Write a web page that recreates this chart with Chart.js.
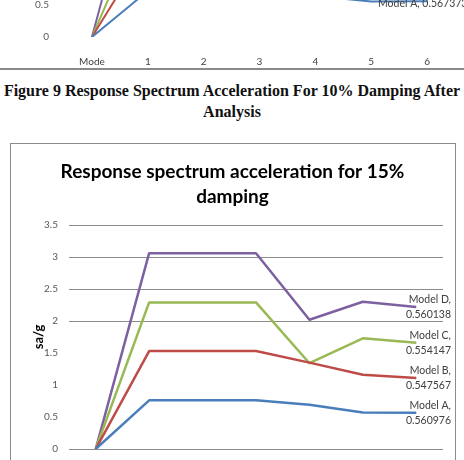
<!DOCTYPE html>
<html>
<head>
<meta charset="utf-8">
<script src="https://cdn.jsdelivr.net/npm/chart.js@4/dist/chart.umd.min.js"></script>
<style>
  body { margin: 0; width: 464px; height: 460px; overflow: hidden; position: relative; background: #fff; }
  #prevWrap { position: absolute; left: 0; top: 0; width: 464px; height: 68px; overflow: hidden; }
  #prevChart { position: absolute; left: 0; top: -232px; }
  #rule { position: absolute; left: 0; top: 68px; width: 464px; border-top: 2px solid #8a8a8a; }
  #caption { position: absolute; left: 0; top: 80px; width: 464px; text-align: center;
             font: bold 16px "Liberation Serif", "Times New Roman", serif; line-height: 21px; color: #111; }
  #box { position: absolute; left: 10px; top: 143px; width: 444px; height: 340px; border: 1px solid #8c8c8c; }
</style>
</head>
<body>
<div id="prevWrap"><canvas id="prevChart" width="464" height="300"></canvas></div>
<div id="rule"></div>
<div id="caption">Figure 9 Response Spectrum Acceleration For 10% Damping After<br>Analysis</div>
<div id="box"><canvas id="chart" width="444" height="335"></canvas></div>

<script>
// categories
var modes = ["Mode", "1", "2", "3", "4", "5", "6"];

// 15% damping (main chart), sa/g
var modelA = [0, 0.76, 0.76, 0.76, 0.69, 0.57, 0.567];
var modelB = [0, 1.53, 1.53, 1.53, 1.35, 1.16, 1.11];
var modelC = [0, 2.29, 2.29, 2.29, 1.34, 1.73, 1.66];
var modelD = [0, 3.06, 3.06, 3.06, 2.02, 2.30, 2.22];
var endLabels = [
    ["Model A,", "0.560976"],
    ["Model B,", "0.547567"],
    ["Model C,", "0.554147"],
    ["Model D,", "0.560138"]
];

// 10% damping (previous figure, only its bottom shows)
var prevA = [0, 0.72, 0.72, 0.72, 0.64, 0.555, 0.56];
var prevB = [0, 1.41, 1.41, 1.41, 1.28, 1.10, 1.07];
var prevC = [0, 2.0, 2.0, 2.0, 1.30, 1.65, 1.60];
var prevD = [0, 3.23, 3.23, 3.23, 1.95, 2.20, 2.15];
var prevLabel = "Model A, 0.567373";

// gridlines that show in the picture
var gridShown = [0, 2, 2.5, 3, 3.5];

var colors = ["#4A7EBB", "#BE4B48", "#98B954", "#7D60A0"];

function makeSets(list, width) {
    return list.map(function(vals, i) {
        return {
            label: "Model " + "ABCD"[i],
            data: vals,
            borderColor: colors[i],
            backgroundColor: colors[i],
            borderWidth: width,
            borderJoinStyle: "round",
            pointRadius: 0,
            tension: 0,
            fill: false
        };
    });
}

function plainTick(v) { return String(v); }

// labels at the last point of each line
var endLabelPlugin = {
    id: "endLabels",
    afterDatasetsDraw: function(chart) {
        var ctx = chart.ctx;
        ctx.save();
        ctx.font = "10.5px Lato";
        ctx.fillStyle = "#404040";
        ctx.textAlign = "right";
        ctx.textBaseline = "middle";
        chart.data.datasets.forEach(function(ds, i) {
            var pt = chart.getDatasetMeta(i).data[ds.data.length - 1];
            ctx.fillText(endLabels[i][0], 440, pt.y - 7.5);
            ctx.fillText(endLabels[i][1], 440, pt.y + 7.5);
        });
        ctx.restore();
    }
};

var prevLabelPlugin = {
    id: "prevLabel",
    afterDatasetsDraw: function(chart) {
        var ctx = chart.ctx;
        var pt = chart.getDatasetMeta(0).data[prevA.length - 1];
        ctx.save();
        ctx.font = "10.5px Lato";
        ctx.fillStyle = "#404040";
        ctx.textAlign = "left";
        ctx.textBaseline = "middle";
        ctx.fillText(prevLabel, 378, pt.y + 2);
        ctx.restore();
    }
};

Chart.defaults.font.family = "Lato";

new Chart(document.getElementById("prevChart"), {
    type: "line",
    data: { labels: modes, datasets: makeSets([prevA, prevB, prevC, prevD], 2) },
    options: {
        responsive: false,
        animation: false,
        layout: { padding: { top: 45, right: 9, left: 0, bottom: 0 } },
        plugins: { legend: { display: false }, tooltip: { enabled: false } },
        scales: {
            x: {
                offset: true,
                grid: { display: false },
                border: { display: false },
                ticks: { font: { size: 10 }, color: "#404040", padding: 11 },
                afterFit: function(s) { s.height = 31; }
            },
            y: {
                min: 0, max: 3.5,
                ticks: { stepSize: 0.5, font: { size: 10 }, color: "#595959", padding: 7, callback: plainTick },
                grid: { display: false },
                border: { display: false },
                afterFit: function(s) { s.width = 64; }
            }
        }
    },
    plugins: [prevLabelPlugin]
});

new Chart(document.getElementById("chart"), {
    type: "line",
    data: { labels: modes, datasets: makeSets([modelA, modelB, modelC, modelD], 2.5) },
    options: {
        responsive: false,
        animation: false,
        layout: { padding: { top: 0, right: 12, left: 11, bottom: 0 } },
        plugins: {
            legend: { display: false },
            tooltip: { enabled: false },
            title: {
                display: true,
                text: ["Response spectrum acceleration for 15%", "damping"],
                color: "#000",
                font: { size: 19, weight: "bold", lineHeight: 25 / 19 },
                padding: { top: 15, bottom: 16 }
            }
        },
        scales: {
            x: {
                offset: true,
                grid: { display: false },
                border: { display: false },
                ticks: { font: { size: 10 }, color: "#404040" },
                afterFit: function(s) { s.height = 30; }
            },
            y: {
                min: 0, max: 3.5,
                ticks: { stepSize: 0.5, font: { size: 10 }, color: "#595959", padding: 11, callback: plainTick },
                grid: {
                    drawTicks: false,
                    lineWidth: 1,
                    color: function(c) {
                        return gridShown.indexOf(c.tick.value) >= 0 ? "#8c8c8c" : "rgba(0,0,0,0)";
                    }
                },
                border: { display: false },
                title: {
                    display: true,
                    text: "sa/g",
                    color: "#000",
                    font: { size: 13, weight: "bold" },
                    padding: { top: 9, bottom: 0 }
                },
                afterFit: function(s) { s.width = 47; }
            }
        }
    },
    plugins: [endLabelPlugin]
});
</script>
</body>
</html>
